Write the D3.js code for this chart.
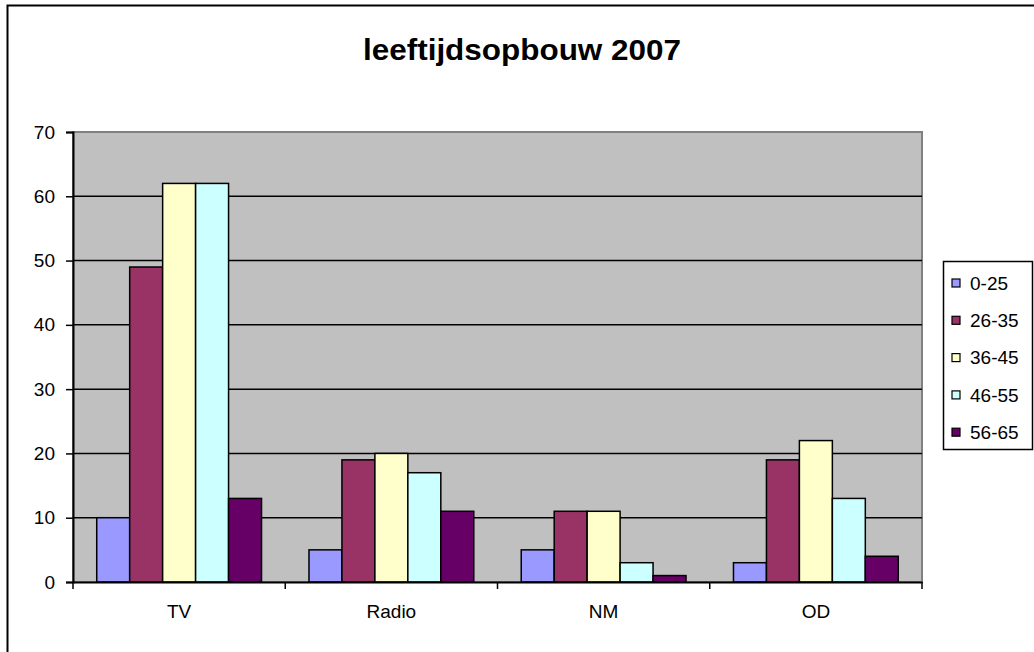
<!DOCTYPE html>
<html>
<head>
<meta charset="utf-8">
<script src="https://cdn.jsdelivr.net/npm/d3@7"></script>
<style>
  body { margin: 0; background: #fff; }
  text { font-family: "Liberation Sans", Arial, sans-serif; fill: #000; }
</style>
</head>
<body>
<script>
// Chart data
var categories = ["TV", "Radio", "NM", "OD"];
var series = ["0-25", "26-35", "36-45", "46-55", "56-65"];
var values = [
    [10, 49, 62, 62, 13],   // TV
    [5, 19, 20, 17, 11],    // Radio
    [5, 11, 11, 3, 1],      // NM
    [3, 19, 22, 13, 4]      // OD
];
var colors = ["#9999FF", "#993366", "#FFFFCC", "#CCFFFF", "#660066"];
var yTicks = [0, 10, 20, 30, 40, 50, 60, 70];

var svg_width = 1034;
var svg_height = 652;

var svg = d3.select("body").append("svg")
    .attr("width", svg_width)
    .attr("height", svg_height);

// Outer chart border (runs off the right and bottom edge)
svg.append("rect")
    .attr("x", 7.5).attr("y", 5.5)
    .attr("width", 1100).attr("height", 700)
    .attr("fill", "#fff")
    .attr("stroke", "#000")
    .attr("stroke-width", 2);

// Plot area
var plot = { left: 73, top: 132, right: 922, bottom: 582 };

var x = d3.scaleBand()
    .domain(categories)
    .range([plot.left, plot.right]);

var xInner = d3.scaleBand()
    .domain(series)
    .range([0, x.bandwidth()])
    .paddingOuter(0.72);

var y = d3.scaleLinear()
    .domain([0, 70])
    .range([plot.bottom, plot.top]);

svg.append("rect")
    .attr("x", plot.left).attr("y", plot.top)
    .attr("width", plot.right - plot.left)
    .attr("height", plot.bottom - plot.top)
    .attr("fill", "#C0C0C0")
    .attr("stroke", "#808080")
    .attr("stroke-width", 2);

// Gridlines
svg.append("g")
    .selectAll("line")
    .data(yTicks.filter(function(d) { return d > 0 && d < 70; }))
    .enter().append("line")
    .attr("x1", plot.left).attr("x2", plot.right)
    .attr("y1", function(d) { return y(d); })
    .attr("y2", function(d) { return y(d); })
    .attr("stroke", "#000")
    .attr("stroke-width", 1.5);

// Bars
var groups = svg.append("g")
    .selectAll("g")
    .data(categories)
    .enter().append("g")
    .attr("transform", function(d) { return "translate(" + x(d) + ",0)"; });

groups.selectAll("rect")
    .data(function(d, i) {
        return series.map(function(s, j) {
            return { series: s, value: values[i][j], color: colors[j] };
        });
    })
    .enter().append("rect")
    .attr("x", function(d) { return xInner(d.series); })
    .attr("width", xInner.bandwidth())
    .attr("y", function(d) { return y(d.value); })
    .attr("height", function(d) { return y(0) - y(d.value); })
    .attr("fill", function(d) { return d.color; })
    .attr("stroke", "#000")
    .attr("stroke-width", 1.5);

// Y axis
var yAxis = svg.append("g")
    .attr("transform", "translate(" + plot.left + ",0)")
    .call(d3.axisLeft(y).tickValues(yTicks).tickSize(7).tickPadding(11));
yAxis.select(".domain").attr("stroke", "#000").attr("stroke-width", 2);
yAxis.selectAll(".tick line").attr("stroke", "#000").attr("stroke-width", 1.5);
yAxis.selectAll("text")
    .style("font-size", "19px")
    .attr("fill", "#000");

// X axis
var xAxis = svg.append("g")
    .attr("transform", "translate(0," + plot.bottom + ")")
    .call(d3.axisBottom(x).tickSize(0).tickPadding(23));
xAxis.select(".domain").attr("stroke", "#000").attr("stroke-width", 2);
xAxis.selectAll("text")
    .style("font-size", "19px")
    .attr("fill", "#000");

// Category separators on the x axis
svg.append("g")
    .selectAll("line")
    .data(categories.concat(["end"]))
    .enter().append("line")
    .attr("x1", function(d, i) { return i < categories.length ? x(d) : plot.right; })
    .attr("x2", function(d, i) { return i < categories.length ? x(d) : plot.right; })
    .attr("y1", plot.bottom)
    .attr("y2", plot.bottom + 7)
    .attr("stroke", "#000")
    .attr("stroke-width", 1.5);

// Title
svg.append("text")
    .attr("x", 522)
    .attr("y", 60)
    .attr("text-anchor", "middle")
    .attr("textLength", 318)
    .attr("lengthAdjust", "spacingAndGlyphs")
    .style("font-size", "29px")
    .style("font-weight", "bold")
    .text("leeftijdsopbouw 2007");

// Legend
var legend = svg.append("g")
    .attr("transform", "translate(943,261)");

legend.append("rect")
    .attr("x", 0.5).attr("y", 0.5)
    .attr("width", 89).attr("height", 188)
    .attr("fill", "#fff")
    .attr("stroke", "#000")
    .attr("stroke-width", 1.5);

var items = legend.selectAll(".item")
    .data(series)
    .enter().append("g")
    .attr("class", "item")
    .attr("transform", function(d, i) { return "translate(0," + (22 + i * 37.3) + ")"; });

items.append("rect")
    .attr("x", 9).attr("y", -4)
    .attr("width", 8).attr("height", 8)
    .attr("fill", function(d, i) { return colors[i]; })
    .attr("stroke", "#000")
    .attr("stroke-width", 1.2);

items.append("text")
    .attr("x", 27)
    .attr("dy", "0.35em")
    .style("font-size", "19px")
    .text(function(d) { return d; });
</script>
</body>
</html>
